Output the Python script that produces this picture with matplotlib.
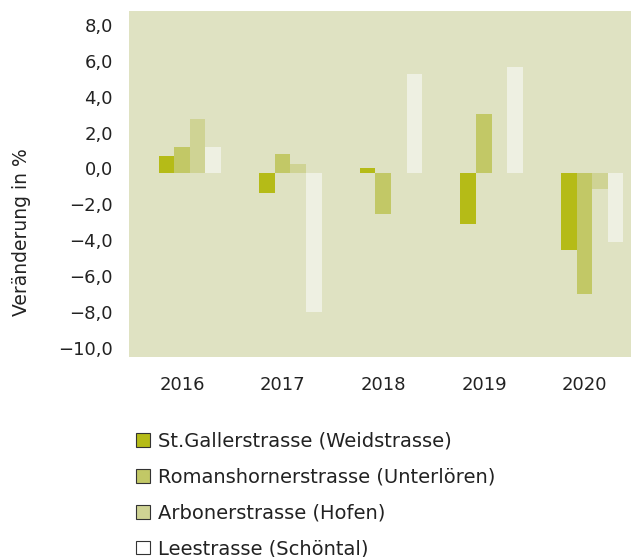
import numpy as np
import matplotlib
matplotlib.use('Agg')
import matplotlib.pyplot as plt
from matplotlib.patches import Patch
from matplotlib.transforms import ScaledTranslation

# Data (Veränderung in %)
years = ['2016', '2017', '2018', '2019', '2020']
series_names = ['St.Gallerstrasse (Weidstrasse)',
                'Romanshornerstrasse (Unterlören)',
                'Arbonerstrasse (Hofen)',
                'Leestrasse (Schöntal)']
st_galler = [0.95, -1.1, 0.28, -2.85, -4.3]
romanshorner = [1.45, 1.05, -2.3, 3.3, -6.75]
arboner = [3.0, 0.5, 0.0, 0.0, -0.9]
leestrasse = [1.45, -7.75, 5.5, 5.9, -3.85]
y_ticks = [8, 6, 4, 2, 0, -2, -4, -6, -8, -10]

series = [st_galler, romanshorner, arboner, leestrasse]
colors = ['#b5bb17', '#c2c866', '#cfd394', '#eef0e2']
legend_colors = ['#b5bb17', '#c2c866', '#cfd394', '#ffffff']

plt.rcParams['font.family'] = 'DejaVu Sans'
plt.rcParams['font.size'] = 13

fig = plt.figure(figsize=(6.31, 5.57), dpi=100)
ax = fig.add_axes([0.2044, 0.359, 0.7956, 0.621])
ax.set_facecolor('#dfe2c2')

x = np.arange(len(years))
width = 0.155
for i, (vals, c) in enumerate(zip(series, colors)):
    ax.bar(x + 0.075 + (i - 1.5) * width, vals, width, color=c, linewidth=0)

ax.set_xlim(-0.53, 4.46)
ax.set_ylim(-10.25, 9.0)
ax.set_yticks(y_ticks)
ax.set_yticklabels([f'{t:.1f}'.replace('.', ',').replace('-', '\u2212') for t in y_ticks])
ax.set_xticks(x)
ax.set_xticklabels(years)
ax.tick_params(axis='both', length=0, colors='#222222', labelsize=13)
ax.tick_params(axis='y', pad=11.5)
ax.tick_params(axis='x', pad=14)
for s in ax.spines.values():
    s.set_visible(False)

# labels in the original sit slightly above the bar baseline
offset = ScaledTranslation(0, 4.4 / 100, fig.dpi_scale_trans)
for lab in ax.get_yticklabels():
    lab.set_transform(lab.get_transform() + offset)

ax.set_ylabel('Veränderung in %', color='#222222', fontsize=13.5)
ax.yaxis.set_label_coords(-0.195, 0.36)

handles = [Patch(facecolor=c, edgecolor='#333333', linewidth=0.8) for c in legend_colors]
fig.legend(handles, series_names, loc='upper left', bbox_to_anchor=(0.2155, 0.225),
           frameon=False, fontsize=14, handlelength=0.7, handleheight=0.7,
           handletextpad=0.43, labelspacing=0.87, borderpad=0, borderaxespad=0,
           labelcolor='#222222')

fig.savefig('out.png', dpi=100)
